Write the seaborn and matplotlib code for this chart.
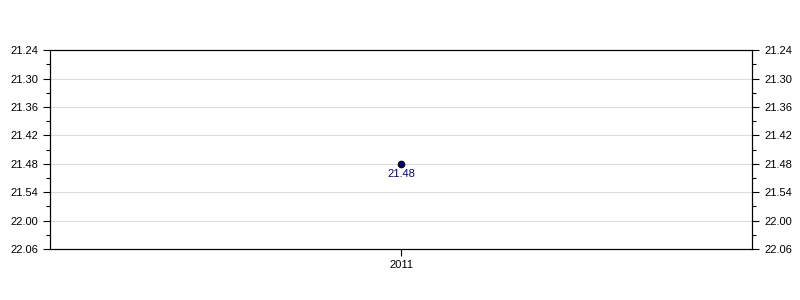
import matplotlib
matplotlib.use("Agg")
import matplotlib.pyplot as plt
import seaborn as sns
import pandas as pd

years = ["2011"]
times = ["21.48"]
tick_labels = ["21.24", "21.30", "21.36", "21.42", "21.48", "21.54", "22.00", "22.06"]

def to_sec(s):
    m, sec = s.split(".")
    return int(m) * 60 + int(sec)

df = pd.DataFrame({"year": years, "t": [to_sec(t) for t in times], "label": times})

sns.set_theme(style="white")
plt.rcParams["font.family"] = ["Liberation Sans", "DejaVu Sans"]

fig = plt.figure(figsize=(8, 3), dpi=100)
ax = fig.add_axes([0.0625, 0.17, 0.878, 0.663])

ticks = [to_sec(t) for t in tick_labels]
for t in ticks:
    ax.axhline(t, color="#dddddd", lw=0.8, zorder=0)

sns.scatterplot(data=df, x="year", y="t", ax=ax, s=22, color="#000080",
                edgecolor="black", linewidth=0.8, zorder=3, legend=False)
for _, r in df.iterrows():
    ax.annotate(r["label"], (r["year"], r["t"]), xytext=(0, -3.5), textcoords="offset points",
                ha="center", va="top", fontsize=8, color="#000080")

ax.set_xlim(-0.5, 0.5)
ax.set_ylim(ticks[-1], ticks[0])
ax.set_yticks(ticks)
ax.set_yticklabels(tick_labels)
ax.set_yticks([t + 3 for t in ticks[:-1]], minor=True)
ax.set_xlabel("")
ax.set_ylabel("")

ax2 = ax.twinx()
ax2.set_ylim(ax.get_ylim())
ax2.set_yticks(ticks)
ax2.set_yticklabels(tick_labels)
ax2.set_yticks([t + 3 for t in ticks[:-1]], minor=True)

for a in (ax, ax2):
    for sp in a.spines.values():
        sp.set_color("black")
        sp.set_linewidth(0.8)
    a.tick_params(axis="both", which="major", length=5, width=0.8, color="black",
                  labelsize=8, labelcolor="black", direction="out")
    a.tick_params(axis="y", which="minor", length=3, width=0.8, color="black", direction="out")
ax.tick_params(axis="y", left=True, which="both")
ax.tick_params(axis="x", bottom=True, pad=3)
ax2.tick_params(axis="y", right=True, which="both")

fig.savefig("out.png", dpi=100)
